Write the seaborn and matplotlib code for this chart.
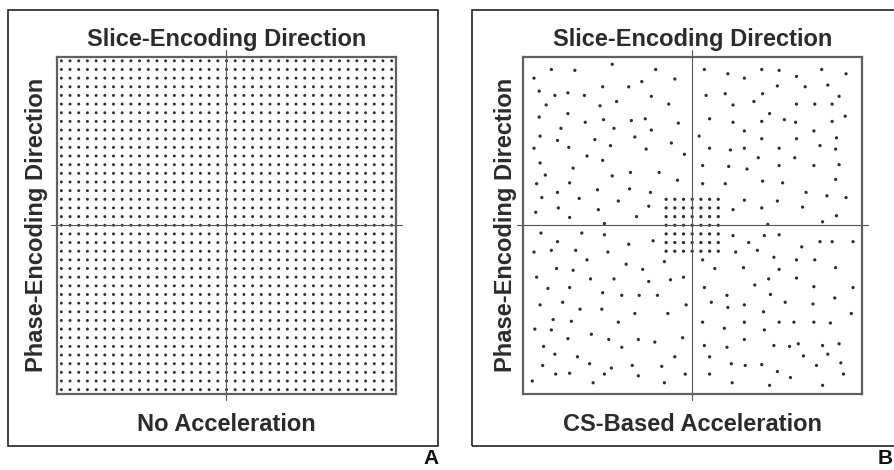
import numpy as np
import pandas as pd
import matplotlib
matplotlib.use("Agg")
import matplotlib.pyplot as plt
import seaborn as sns
from matplotlib.patches import Rectangle

sns.set_style("white")
plt.rcParams['font.family'] = ['Liberation Sans', 'DejaVu Sans']

# full Cartesian k-space grid (39 x 39 lines, centre line included)
grid_k = list(range(-19, 20))
# fully sampled centre block of the CS pattern (7 x 7)
center_k = list(range(-3, 4))

# pseudo-random CS samples (grid units)
cs_kx = [
    # upper left
    -16.2, -13.5, -9.2, -4.2, -18.2, -2.0, -10.3, -7.3, -5.8, -17.6, -15.8, -14.3, -12.4, -4.7,
    -16.8, -10.6, -8.7, -2.7, -17.6, -14.3, -12.3, -10.2, -7.0, -5.4, -1.6, -15.1, -9.0, -4.7,
    -17.5, -15.5, -11.2, -6.6, -18.2, -14.2, -9.4, -5.3, -2.4, -12.1, -10.3, -0.9, -17.5, -13.7,
    -16.9, -9.2, -7.1, -3.8, -17.9, -14.1, -1.7, -15.5, -10.9, -7.2, -4.8, -17.3, -13.0, -8.5,
    -5.0, -15.4, -10.8, -18.0, -14.1, -6.4, -10.1,
    # upper right
    1.4, 4.1, 6.0, 8.0, 10.0, 12.0, 14.9, 17.7, 9.8, 13.0, 15.6, 1.6, 3.8, 8.1, 4.7, 7.1, 12.0,
    14.1, 16.1, 16.9, 8.9, 2.0, 4.7, 8.0, 10.6, 11.9, 16.1, 17.6, 6.0, 14.0, 0.8, 8.0, 12.0, 16.6,
    2.0, 4.4, 6.0, 10.0, 14.7, 16.5, 7.6, 11.8, 1.2, 4.2, 6.3, 10.0, 14.0, 16.9, 1.2, 3.8, 8.1,
    10.4, 16.5, 13.1, 15.5, 17.7, 6.0, 9.8, 4.7, 8.0, 12.7, 16.6, 8.7, 15.0,
    # lower left
    -17.4, -12.7, -10.1, -15.5, -7.3, -4.5, -18.2, -16.2, -13.4, -9.7, -12.1, -7.6, -3.2, -15.6,
    -13.7, -5.7, -17.9, -11.7, -9.0, -5.0, -2.5, -1.0, -16.6, -14.1, -10.3, -8.1, -6.1, -4.0,
    -17.5, -14.9, -12.9, -10.4, -6.6, -2.8, -0.7, -16.0, -13.9, -8.5, -18.1, -16.2, -14.3, -11.6,
    -9.6, -6.2, -4.3, -1.1, -17.1, -8.1, -15.8, -13.2, -2.0, -17.2, -11.8, -9.3, -6.9, -3.5,
    -15.7, -14.1, -10.1, -6.2, -0.8, -18.4, -11.4, -3.2,
    # lower right
    4.7, 8.3, 10.0, 6.5, 14.7, 16.1, 18.5, 12.6, 5.0, 7.5, 1.2, 9.4, 12.0, 14.1, 2.6, 5.9, 10.0,
    16.5, 8.8, 12.0, 7.2, 1.4, 14.0, 18.5, 4.0, 9.0, 16.4, 2.2, 4.1, 6.0, 10.7, 13.9, 8.2, 18.3,
    1.2, 6.0, 10.0, 11.7, 14.0, 15.9, 3.7, 8.3, 6.0, 1.4, 4.0, 9.4, 11.2, 12.2, 15.0, 16.9, 2.0,
    12.8, 15.6, 4.5, 6.1, 8.0, 14.3, 17.1, 9.8, 2.0, 11.3, 17.4, 4.6, 8.9, 15.0,
]
cs_ky = [
    # upper left
    18.0, 17.9, 18.6, 18.0, 17.0, 16.9, 16.0, 16.0, 16.6, 15.5, 15.0, 15.3, 15.0, 14.9,
    13.9, 13.8, 14.3, 14.0, 12.5, 12.9, 11.9, 12.2, 12.1, 12.3, 11.8, 11.2, 11.2, 11.0,
    10.3, 9.8, 9.9, 10.2, 8.9, 9.0, 9.2, 8.8, 9.5, 8.0, 7.5, 8.2, 7.2, 6.6,
    5.8, 5.7, 6.1, 6.1, 4.8, 4.9, 5.2, 3.8, 4.1, 4.2, 3.8, 3.2, 3.1, 2.8,
    2.2, 2.0, 1.8, 1.5, 0.9, 1.0, 0.2,
    # upper right
    18.0, 17.5, 17.0, 18.0, 17.9, 17.2, 18.0, 17.5, 16.1, 16.0, 16.2, 15.0, 15.2, 15.2, 13.9, 14.3, 14.0,
    14.0, 14.0, 14.9, 12.9, 12.3, 11.9, 12.0, 12.2, 11.9, 12.0, 12.6, 10.9, 10.9, 10.3, 10.0, 10.0, 10.1,
    8.9, 8.7, 8.9, 8.9, 9.2, 8.8, 7.8, 7.8, 6.9, 6.8, 6.5, 6.9, 6.9, 7.0, 4.8, 4.8, 5.1,
    4.9, 5.3, 3.8, 3.4, 3.2, 2.9, 2.8, 1.8, 2.0, 2.1, 1.1, 0.1, 0.4,
    # lower left
    -0.9, -0.9, -1.1, -1.9, -2.2, -1.8, -3.1, -2.9, -2.9, -3.1, -4.0, -4.5, -4.2, -5.0,
    -5.2, -5.1, -6.0, -6.2, -6.2, -6.5, -6.3, -6.0, -7.3, -7.2, -7.8, -8.1, -8.1, -8.1,
    -9.2, -8.9, -9.7, -9.7, -10.2, -10.2, -9.2, -10.9, -11.1, -11.2, -12.0, -12.1, -13.1, -12.6,
    -13.2, -13.2, -13.5, -13.0, -14.0, -14.1, -14.9, -15.2, -15.2, -16.2, -16.0, -16.5, -16.2, -16.3,
    -17.2, -17.1, -17.2, -17.4, -17.2, -18.0, -18.2, -18.2,
    # lower right
    -1.2, -1.2, -1.1, -2.0, -1.9, -1.9, -1.9, -2.5, -3.1, -2.9, -4.0, -3.7, -4.0, -4.0, -5.0, -4.9, -5.1,
    -4.9, -6.2, -6.1, -6.9, -7.2, -7.1, -7.2, -8.1, -8.0, -8.4, -8.9, -9.5, -9.2, -8.9, -9.1, -10.0, -10.2,
    -11.2, -11.2, -11.2, -11.2, -11.2, -11.3, -11.9, -12.1, -13.2, -13.9, -14.1, -13.9, -14.0, -13.7, -13.9, -13.7, -15.2,
    -15.1, -14.9, -16.0, -16.2, -16.1, -16.2, -15.9, -16.9, -17.2, -17.6, -17.2, -18.2, -18.5, -18.5,
]

panel_titles = ["Slice-Encoding Direction", "Slice-Encoding Direction"]
side_labels = ["Phase-Encoding Direction", "Phase-Encoding Direction"]
bottom_labels = ["No Acceleration", "CS-Based Acceleration"]
panel_letters = ["A", "B"]

# sample tables
kx_full, ky_full = np.meshgrid(grid_k, grid_k)
full_df = pd.DataFrame({"kx": kx_full.ravel(), "ky": ky_full.ravel()})
cx, cy = np.meshgrid(center_k, center_k)
cs_df = pd.DataFrame({"kx": list(cx.ravel()) + cs_kx, "ky": list(cy.ravel()) + cs_ky})

W, H = 895, 470
fig = plt.figure(figsize=(W / 100, H / 100), dpi=100)

text_col = "#2b2b2b"
box_left = [57, 522.7]
frame_left = [7.7, 472]
side_off = [20.5, 17.5]
box_w = 339
box_top, box_bot = 56.5, 394

for i, df in enumerate([full_df, cs_df]):
    ax = fig.add_axes([box_left[i] / W, 1 - box_bot / H, box_w / W, (box_bot - box_top) / H])
    sns.scatterplot(data=df, x="kx", y="ky", ax=ax, s=4.5 if i == 0 else 5.5,
                    color="#2e2e2e", edgecolor="none", linewidth=0, legend=False)
    ax.set_xlim(-19.5, 19.5)
    ax.set_ylim(-19.5, 19.5)
    ax.set_xticks([])
    ax.set_yticks([])
    ax.set_xlabel("")
    ax.set_ylabel("")
    for sp in ax.spines.values():
        sp.set_linewidth(1.6)
        sp.set_color("#606060")
    # centre lines, running a little past the box
    ax.plot([0, 0], [-20.2, 20.2], color="#555555", lw=0.8, clip_on=False)
    ax.plot([-20.2, 20.2], [0, 0], color="#555555", lw=0.8, clip_on=False)

    # outer frame
    fig.patches.append(Rectangle((frame_left[i] / W, 1 - 445.7 / H), (438.3 - 7.7) / W, 436 / H,
                                 transform=fig.transFigure, fill=False,
                                 edgecolor="#222222", lw=1.2))

    cxp = (box_left[i] + box_w / 2) / W
    fig.text(cxp, 1 - 46 / H, panel_titles[i], ha="center", va="baseline",
             fontsize=17, fontweight="bold", color=text_col)
    fig.text(cxp, 1 - 431 / H, bottom_labels[i], ha="center", va="baseline",
             fontsize=17, fontweight="bold", color=text_col)
    fig.text((box_left[i] - side_off[i]) / W, 1 - 225 / H, side_labels[i], rotation=90,
             ha="center", va="center", fontsize=17, fontweight="bold", color=text_col)

fig.text(439 / W, 0.004, panel_letters[0], ha="right", va="bottom",
         fontsize=15, fontweight="bold", color="#111111")
fig.text(893 / W, 0.004, panel_letters[1], ha="right", va="bottom",
         fontsize=15, fontweight="bold", color="#111111")

fig.savefig("out.png", dpi=100)
